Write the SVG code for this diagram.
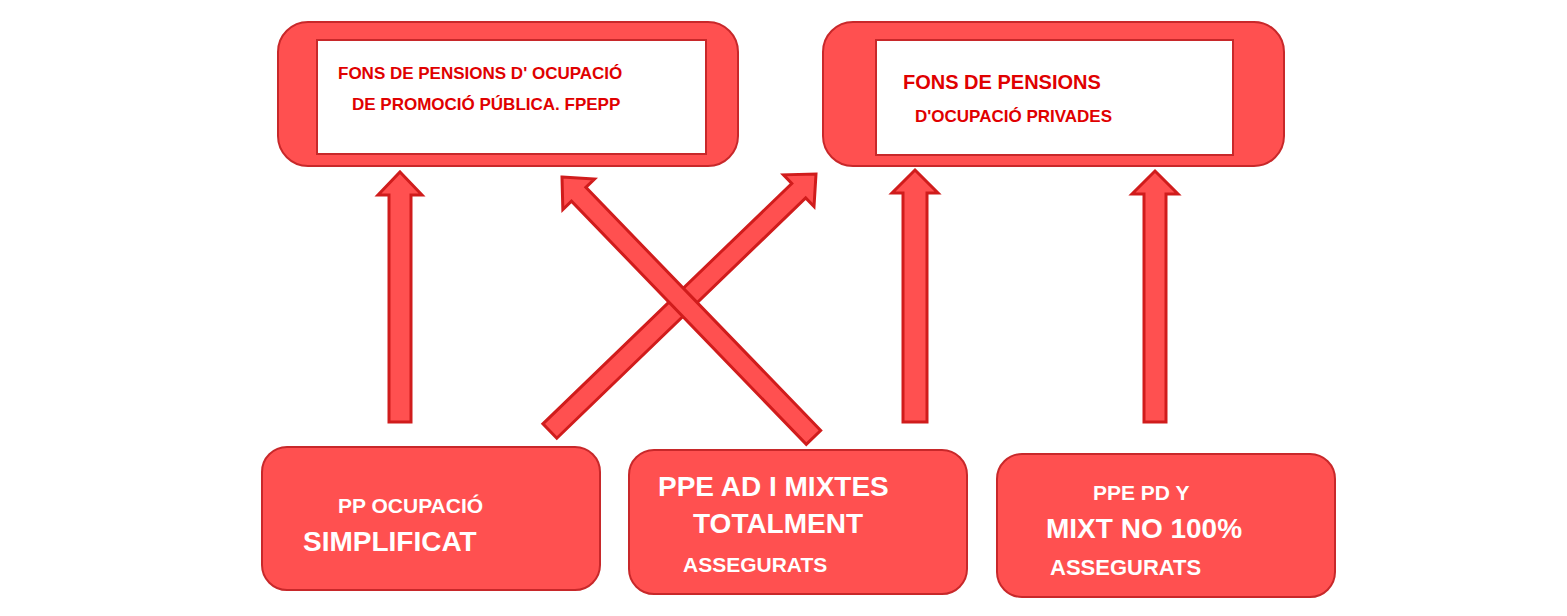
<svg xmlns="http://www.w3.org/2000/svg" width="1567" height="616" viewBox="0 0 1567 616">
<style>
.box{fill:#FF5050;stroke:#C8282A;stroke-width:2}
.inner{fill:#fff;stroke:#C8282A;stroke-width:2}
.arr{fill:#FF5050;stroke:#D01C1C;stroke-width:3;stroke-linejoin:miter}
.t{font-family:"Liberation Sans",Arial,sans-serif;font-weight:bold}
.r{fill:#E00000}
.w{fill:#fff}
</style>
<rect width="1567" height="616" fill="#fff"/>
<g id="connectors">
<path class="arr" transform="translate(400,172)" d="M0,0 L22,23 L11,23 L11,250 L-11,250 L-11,23 L-22,23 Z"/>
<path class="arr" transform="translate(915,170)" d="M0,0 L23,23 L12,23 L12,252 L-12,252 L-12,23 L-23,23 Z"/>
<path class="arr" transform="translate(1155,171)" d="M0,0 L23,23 L11,23 L11,251 L-11,251 L-11,23 L-23,23 Z"/>
<path class="arr" transform="translate(816,174) rotate(46)" d="M0,0 L22,24 L10,24 L10,370 L-10,370 L-10,24 L-22,24 Z"/>
<path class="arr" transform="translate(562,177) rotate(-44)" d="M0,0 L22,24 L10,24 L10,362 L-10,362 L-10,24 L-22,24 Z"/>
</g>
<g id="top1">
<rect class="box" x="278" y="22" width="460" height="144" rx="30"/>
<rect class="inner" x="317" y="40" width="389" height="114"/>
<text class="t r" x="338" y="79" font-size="17">FONS DE PENSIONS D' OCUPACIÓ</text>
<text class="t r" x="352" y="110" font-size="17">DE PROMOCIÓ PÚBLICA. FPEPP</text>
</g>
<g id="top2">
<rect class="box" x="823" y="22" width="461" height="144" rx="30"/>
<rect class="inner" x="876" y="40" width="357" height="115"/>
<text class="t r" x="903" y="89" font-size="20">FONS DE PENSIONS</text>
<text class="t r" x="915" y="122" font-size="17">D'OCUPACIÓ PRIVADES</text>
</g>
<g id="bottom1">
<rect class="box" x="262" y="447" width="338" height="143" rx="25"/>
<text class="t w" x="338" y="513" font-size="21">PP OCUPACIÓ</text>
<text class="t w" x="303" y="551" font-size="28">SIMPLIFICAT</text>
</g>
<g id="bottom2">
<rect class="box" x="629" y="450" width="338" height="144" rx="25"/>
<text class="t w" x="658" y="496" font-size="28">PPE AD I MIXTES</text>
<text class="t w" x="693" y="533" font-size="28">TOTALMENT</text>
<text class="t w" x="683" y="572" font-size="21">ASSEGURATS</text>
</g>
<g id="bottom3">
<rect class="box" x="997" y="454" width="338" height="143" rx="25"/>
<text class="t w" x="1093" y="500" font-size="21">PPE PD Y</text>
<text class="t w" x="1046" y="538" font-size="28">MIXT NO 100%</text>
<text class="t w" x="1050" y="575" font-size="22">ASSEGURATS</text>
</g>
</svg>
